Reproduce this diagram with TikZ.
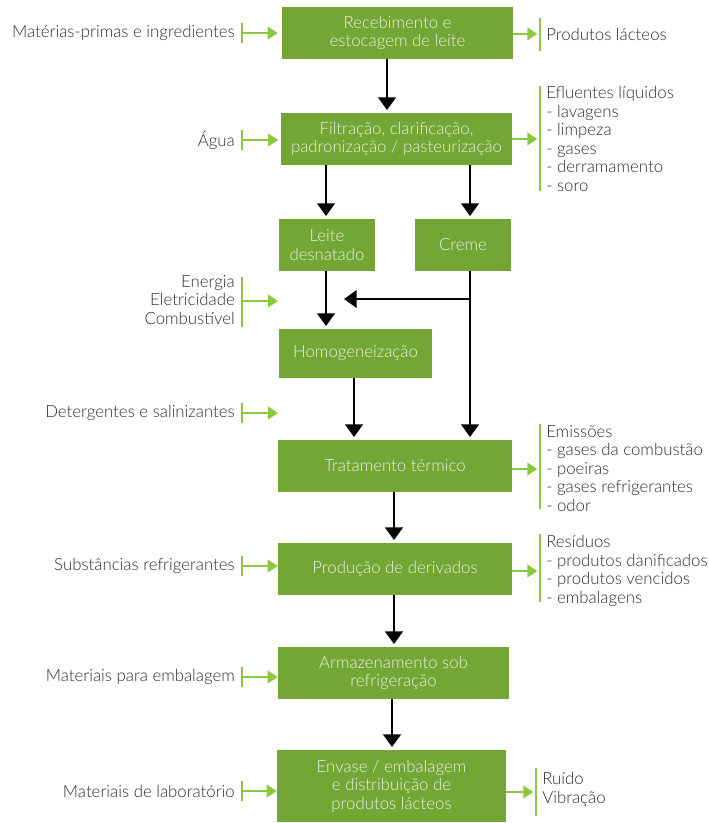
\documentclass[tikz,border=0pt]{standalone}
\usepackage{fontspec}
\IfFontExistsTF{Lato Light}{\setmainfont{Lato Light}\def\fsz{12.6pt}}{\setmainfont{Liberation Sans}\def\fsz{12.3pt}}
\usetikzlibrary{arrows.meta,calc}
\definecolor{boxg}{RGB}{116,166,53}
\definecolor{lg}{RGB}{141,198,63}
\definecolor{txt}{RGB}{45,45,45}
\definecolor{btxt}{RGB}{234,242,224}
\begin{document}
\begin{tikzpicture}[x=0.75pt,y=-0.75pt,
  font=\fontsize{\fsz}{13.9pt}\selectfont,
  box/.style={fill=boxg, text=btxt, align=center, inner sep=0pt},
  sz/.style 2 args={minimum width=#1*0.75pt, minimum height=#2*0.75pt},
  lab/.style={text=txt, inner sep=0pt},
  arr/.style={line width=2.2pt, -{Triangle[length=9.5pt,width=13pt]}, shorten >=2pt},
  garr/.style={draw=lg, line width=1.3pt, -{Triangle[length=7.5pt,width=9.5pt]}},
  gbar/.style={draw=lg, line width=1.5pt}]
\useasboundingbox (0,0) rectangle (708,823);

% process boxes
\node[box,sz={231}{52}] (b1) at (397.5,33) {Recebimento e\\estocagem de leite};
\node[box,sz={231}{52}] (b2) at (396.5,139) {Filtração, clarificação,\\padronização / pasteurização};
\node[box,sz={96}{52}] (b3) at (327,245) {Leite\\desnatado};
\node[box,sz={96}{52}] (b4) at (463,245) {Creme};
\node[box,sz={153}{49}] (b5) at (355.5,353.5) {Homogeneização};
\node[box,sz={234}{52}] (b6) at (395,466) {Tratamento térmico};
\node[box,sz={234}{52}] (b7) at (395,569) {Produção de derivados};
\node[box,sz={231}{52}] (b8) at (393.5,673) {Armazenamento sob\\refrigeração};
\node[box,sz={229}{72}] (b9) at (391.5,786) {Envase / embalagem\\e distribuição de\\produtos lácteos};

% black flow arrows
\coordinate (x1) at (387,0);
\coordinate (x2) at (326,0);
\coordinate (x3) at (470,0);
\coordinate (x4) at (354,0);
\coordinate (x5) at (394,0);
\coordinate (x6) at (392,0);
\draw[arr] (b1.south -| x1) -- (b2.north -| x1);
\draw[arr] (b2.south -| x2) -- (b3.north -| x2);
\draw[arr] (b2.south -| x3) -- (b4.north -| x3);
\draw[arr] (b3.south -| x2) -- (b5.north -| x2);
\draw[arr] (b4.south -| x3) -- (b6.north -| x3);
\coordinate (j) at (470,299);
\coordinate (je) at (344,299);
\draw[arr, shorten >=0pt] (j) -- (je);
\draw[arr] (b5.south -| x4) -- (b6.north -| x4);
\draw[arr] (b6.south -| x5) -- (b7.north -| x5);
\draw[arr] (b7.south -| x5) -- (b8.north -| x5);
\draw[arr] (b8.south -| x6) -- (b9.north -| x6);

% inputs
\node[lab,anchor=east] (i1) at (235,33) {Matérias-primas e ingredientes};
\coordinate (p1) at (242,33);
\draw[gbar] ($(p1)+(0,-10)$) -- ($(p1)+(0,10)$);
\draw[garr, shorten >=3pt] (p1) -- (b1.west |- p1);

\node[lab,anchor=east] (i2) at (235,140) {Água};
\coordinate (p2) at (242,140);
\draw[gbar] ($(p2)+(0,-10)$) -- ($(p2)+(0,10)$);
\draw[garr, shorten >=2pt] (p2) -- (b2.west |- p2);

\node[lab,anchor=east,align=right] (i3) at (235,300) {Energia\\Eletricidade\\Combustível};
\coordinate (p3) at (242,301);
\coordinate (e3) at (278,301);
\draw[gbar] ($(p3)+(0,-24)$) -- ($(p3)+(0,26)$);
\draw[garr] (p3) -- (e3);

\node[lab,anchor=east] (i4) at (235,413) {Detergentes e salinizantes};
\coordinate (p4) at (242,413);
\coordinate (e4) at (278,413);
\draw[gbar] ($(p4)+(0,-10)$) -- ($(p4)+(0,10)$);
\draw[garr] (p4) -- (e4);

\node[lab,anchor=east] (i5) at (235,566) {Substâncias refrigerantes};
\coordinate (p5) at (242,566);
\draw[gbar] ($(p5)+(0,-10)$) -- ($(p5)+(0,10)$);
\draw[garr] (p5) -- (b7.west |- p5);

\node[lab,anchor=east] (i6) at (235,677) {Materiais para embalagem};
\coordinate (p6) at (242,677);
\draw[gbar] ($(p6)+(0,-10)$) -- ($(p6)+(0,10)$);
\draw[garr] (p6) -- (b8.west |- p6);

\node[lab,anchor=east] (i7) at (235,791) {Materiais de laboratório};
\coordinate (p7) at (242,791);
\draw[gbar] ($(p7)+(0,-10)$) -- ($(p7)+(0,10)$);
\draw[garr] (p7) -- (b9.west |- p7);

% outputs
\coordinate (q1) at (540,34);
\draw[gbar] (540,18) -- (540,51);
\draw[garr, shorten >=2pt] (b1.east |- q1) -- (q1);
\node[lab,anchor=west] (o1) at (546,34) {Produtos lácteos};

\coordinate (q2) at (540,139);
\draw[gbar] (540,86) -- (540,191);
\draw[garr, shorten >=2pt] (b2.east |- q2) -- (q2);
\node[lab,anchor=north west,align=left] (o2) at (546,86) {Efluentes líquidos\\- lavagens\\- limpeza\\- gases\\- derramamento\\- soro};

\coordinate (q3) at (540,469);
\draw[gbar] (540,424) -- (540,509);
\draw[garr, shorten >=2pt] (b6.east |- q3) -- (q3);
\node[lab,anchor=north west,align=left] (o3) at (546,425) {Emissões\\- gases da combustão\\- poeiras\\- gases refrigerantes\\- odor};

\coordinate (q4) at (540,571);
\draw[gbar] (540,534) -- (540,602);
\draw[garr, shorten >=2pt] (b7.east |- q4) -- (q4);
\node[lab,anchor=north west,align=left] (o4) at (546,535) {Resíduos\\- produtos danificados\\- produtos vencidos\\- embalagens};

\coordinate (q5) at (536,792);
\draw[gbar] (536,768) -- (536,816);
\draw[garr, shorten >=2pt] (b9.east |- q5) -- (q5);
\node[lab,anchor=north west,align=left] (o5) at (542,772) {Ruído\\Vibração};
\end{tikzpicture}
\end{document}
